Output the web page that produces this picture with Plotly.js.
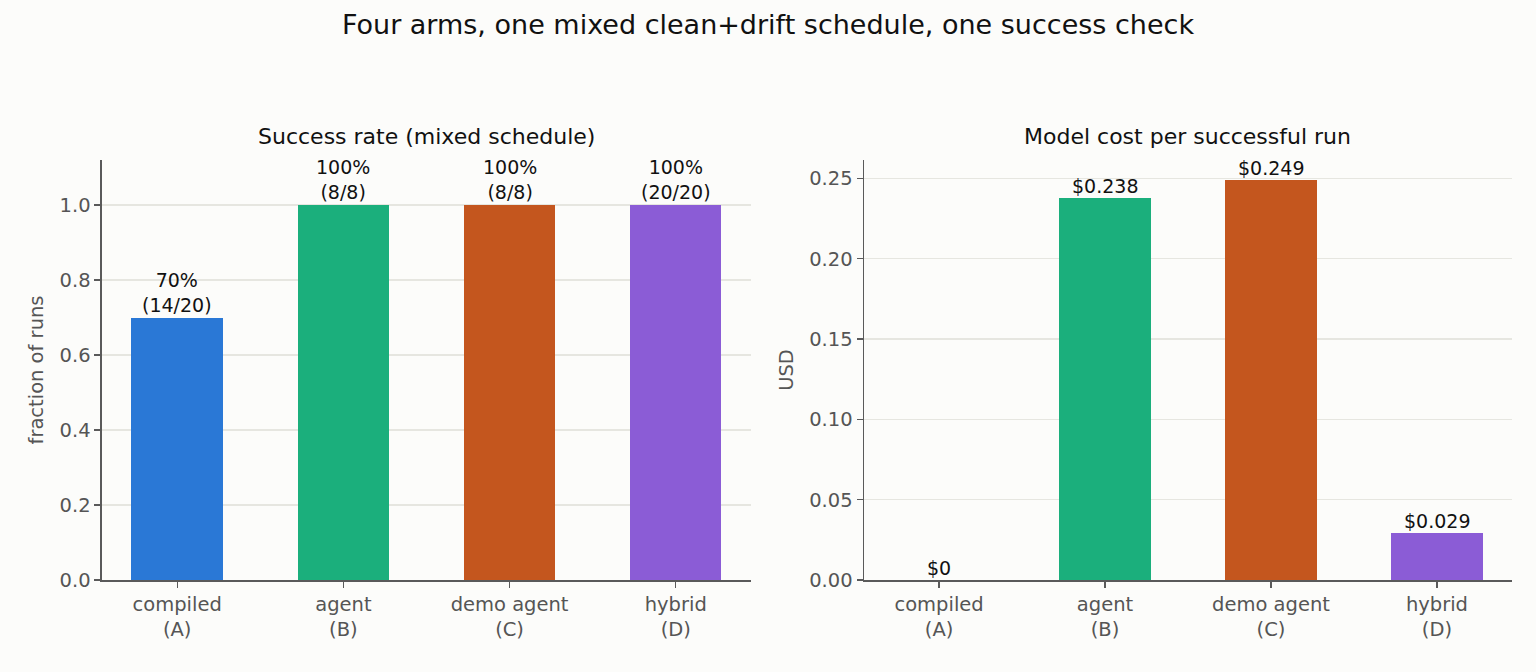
<!DOCTYPE html>
<html>
<head>
<meta charset="utf-8">
<script src="https://cdn.plot.ly/plotly-3.0.1.min.js"></script>
<style>html,body{margin:0;padding:0;background:#fcfcfa;}#chart{width:1536px;height:672px;}</style>
</head>
<body>
<div id="chart"></div>
<script>
const categories = ["compiled<br>(A)", "agent<br>(B)", "demo agent<br>(C)", "hybrid<br>(D)"];
const successRate = [0.70, 1.0, 1.0, 1.0];
const successLabels = ["70%<br>(14/20)", "100%<br>(8/8)", "100%<br>(8/8)", "100%<br>(20/20)"];
const costPerSuccess = [0.0, 0.238, 0.249, 0.029];
const costLabels = ["$0", "$0.238", "$0.249", "$0.029"];
const barColors = ["#2a78d6", "#1baf7c", "#c4561e", "#8b5cd6"];

const font = {family: "DejaVu Sans, sans-serif", color: "#555555", size: 19.5};
const labelFont = {family: "DejaVu Sans, sans-serif", size: 19, color: "#111"};

const traces = [
  {type: "bar", x: categories, y: successRate, marker: {color: barColors}, width: 0.55,
   xaxis: "x", yaxis: "y", hoverinfo: "none", showlegend: false},
  {type: "bar", x: categories, y: costPerSuccess, marker: {color: barColors}, width: 0.55,
   xaxis: "x2", yaxis: "y2", hoverinfo: "none", showlegend: false}
];

const annotations = [];
categories.forEach((c, i) => {
  annotations.push({xref: "x", yref: "y", x: c, y: successRate[i], text: successLabels[i],
    showarrow: false, yanchor: "bottom", yshift: 0, font: labelFont});
  annotations.push({xref: "x2", yref: "y2", x: c, y: costPerSuccess[i], text: costLabels[i],
    showarrow: false, yanchor: "bottom", yshift: -1, font: labelFont});
});
annotations.push({xref: "paper", yref: "paper", x: 0.2776, y: 0.775, xanchor: "center", yanchor: "bottom",
  text: "Success rate (mixed schedule)", showarrow: false, font: {family: font.family, size: 22, color: "#111"}});
annotations.push({xref: "paper", yref: "paper", x: 0.7734, y: 0.775, xanchor: "center", yanchor: "bottom",
  text: "Model cost per successful run", showarrow: false, font: {family: font.family, size: 22, color: "#111"}});

const axisCommon = {
  showline: true, linecolor: "#5a5a5a", linewidth: 1.5, ticks: "outside", ticklen: 6,
  tickcolor: "#5a5a5a", tickwidth: 1.3, tickfont: font, zeroline: false
};

const layout = {
  width: 1536, height: 672,
  paper_bgcolor: "#fcfcfa", plot_bgcolor: "#fcfcfa",
  margin: {l: 0, r: 0, t: 0, b: 0},
  font: font,
  title: {text: "Four arms, one mixed clean+drift schedule, one success check",
    x: 0.5, xanchor: "center", y: 0.963, yanchor: "middle",
    font: {family: font.family, size: 27, color: "#111"}},
  bargap: 0,
  xaxis: Object.assign({}, axisCommon, {domain: [0.0664, 0.4889], type: "category",
    range: [-0.4525, 3.4525], showgrid: false, anchor: "y"}),
  yaxis: Object.assign({}, axisCommon, {domain: [0.1369, 0.7619], range: [0, 1.12],
    dtick: 0.2, tickformat: ".1f", showgrid: true, gridcolor: "#e6e6e0", gridwidth: 1.3, anchor: "x",
    title: {text: "fraction of runs", font: font, standoff: 10}}),
  xaxis2: Object.assign({}, axisCommon, {domain: [0.5625, 0.9844], type: "category",
    range: [-0.4525, 3.4525], showgrid: false, anchor: "y2"}),
  yaxis2: Object.assign({}, axisCommon, {domain: [0.1369, 0.7619], range: [0, 0.2615],
    dtick: 0.05, tickformat: ".2f", showgrid: true, gridcolor: "#e6e6e0", gridwidth: 1.3, anchor: "x2",
    title: {text: "USD", font: font, standoff: 10}}),
  annotations: annotations
};

Plotly.newPlot("chart", traces, layout, {displayModeBar: false, staticPlot: true});
</script>
</body>
</html>
